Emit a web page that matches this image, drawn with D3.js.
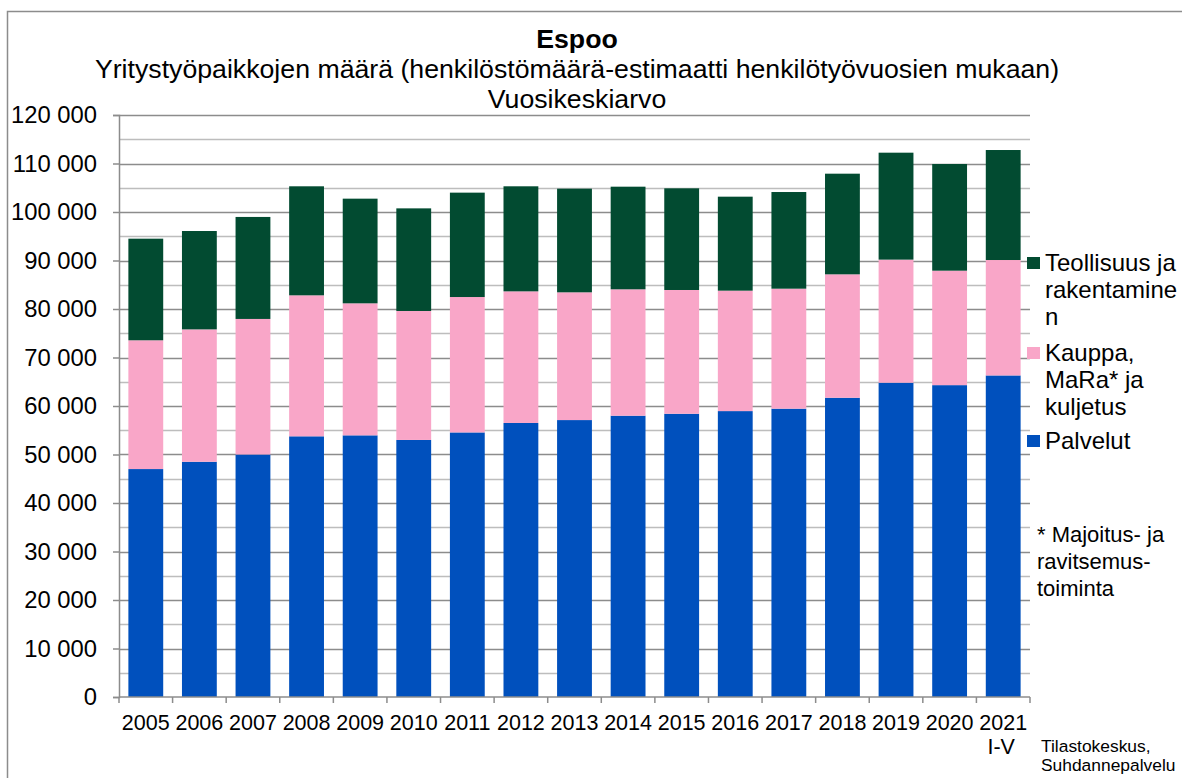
<!DOCTYPE html>
<meta charset="utf-8">
<style>
  body { margin: 0; background: #fff; }
  svg { display: block; font-family: "Liberation Sans", Arial, sans-serif; }
  .ylab { font-size: 23.8px; fill: #000; }
  .xlab { font-size: 21.5px; fill: #000; }
  .leg { font-size: 24px; fill: #000; }
  .foot { font-size: 22px; fill: #000; }
  .note { font-size: 17.4px; fill: #000; }
</style>
<body>
<div id="chart"></div>
<script src="https://d3js.org/d3.v7.min.js"></script>
<script>
  // data
  const years = ["2005", "2006", "2007", "2008", "2009", "2010", "2011", "2012", "2013",
    "2014", "2015", "2016", "2017", "2018", "2019", "2020", "2021"]
  const palvelut = [47000, 48500, 50000, 53750, 53950, 53000, 54550, 56500, 57100,
    58000, 58400, 58950, 59450, 61700, 64800, 64300, 66300]
  const kauppa = [26550, 27300, 27950, 29070, 27220, 26590, 27920, 27140, 26340,
    26060, 25520, 24830, 24740, 25450, 25380, 23600, 23800]
  const teollisuus = [20950, 20280, 21030, 22480, 21580, 21160, 21520, 21660, 21370,
    21160, 20960, 19380, 19930, 20750, 22050, 22000, 22680]
  const yTicks = [0, 10000, 20000, 30000, 40000, 50000, 60000, 70000, 80000, 90000,
    100000, 110000, 120000]
  const titles = ["Espoo",
    "Yritystyöpaikkojen määrä (henkilöstömäärä-estimaatti henkilötyövuosien mukaan)",
    "Vuosikeskiarvo"]
  const seriesNames = ["Palvelut", "Kauppa", "Teollisuus"]
  const legendItems = [
    { key: "Teollisuus", lines: ["Teollisuus ja", "rakentamine", "n"] },
    { key: "Kauppa", lines: ["Kauppa,", "MaRa* ja", "kuljetus"] },
    { key: "Palvelut", lines: ["Palvelut"] }
  ]
  const footnote = ["* Majoitus- ja", "ravitsemus-", "toiminta"]
  const source = ["Tilastokeskus,", "Suhdannepalvelu"]

  const W = 1182, H = 778
  const plot = { left: 119, right: 1030, top: 115, bottom: 697 }

  const color = d3.scaleOrdinal()
    .domain(seriesNames)
    .range(["#0050bd", "#f9a6c8", "#024b31"])

  const rows = years.map((y, i) => ({
    year: y, Palvelut: palvelut[i], Kauppa: kauppa[i], Teollisuus: teollisuus[i]
  }))
  const stacked = d3.stack().keys(seriesNames)(rows)

  const x = d3.scaleBand()
    .domain(years)
    .range([plot.left, plot.right])
    .paddingInner(0.35)
    .paddingOuter(0.175)

  const y = d3.scaleLinear()
    .domain([0, 120000])
    .range([plot.bottom, plot.top])

  const svg = d3.select("#chart").append("svg")
    .attr("width", W)
    .attr("height", H)

  // chart frame
  svg.append("rect")
    .attr("x", 7.5).attr("y", 11.5)
    .attr("width", W).attr("height", H)
    .attr("fill", "none")
    .attr("stroke", "#8c8c8c")
    .attr("stroke-width", 1.5)

  // titles
  svg.selectAll(".title")
    .data(titles)
    .join("text")
    .attr("class", "title")
    .attr("x", 577)
    .attr("y", (d, i) => 48 + i * 30)
    .attr("text-anchor", "middle")
    .style("font-size", "26.7px")
    .style("font-weight", (d, i) => i == 0 ? "bold" : "normal")
    .text(d => d)

  // minor gridlines
  const minor = d3.range(5000, 120000, 10000)
  svg.append("g")
    .selectAll("line")
    .data(minor)
    .join("line")
    .attr("x1", plot.left).attr("x2", plot.right)
    .attr("y1", d => Math.round(y(d)) + 0.5).attr("y2", d => Math.round(y(d)) + 0.5)
    .attr("stroke", "#bdbdbd")
    .attr("stroke-width", 1.5)

  // major gridlines
  svg.append("g")
    .selectAll("line")
    .data(yTicks.slice(1))
    .join("line")
    .attr("x1", plot.left).attr("x2", plot.right)
    .attr("y1", d => Math.round(y(d)) + 0.5).attr("y2", d => Math.round(y(d)) + 0.5)
    .attr("stroke", "#8c8c8c")
    .attr("stroke-width", 1.5)

  // bars
  svg.append("g")
    .selectAll("g")
    .data(stacked)
    .join("g")
    .attr("fill", d => color(d.key))
    .selectAll("rect")
    .data(d => d)
    .join("rect")
    .attr("x", d => x(d.data.year))
    .attr("y", d => y(d[1]))
    .attr("width", x.bandwidth())
    .attr("height", d => y(d[0]) - y(d[1]))

  // y axis
  const yAxis = svg.append("g")
    .attr("transform", `translate(${plot.left},0)`)
    .call(d3.axisLeft(y)
      .tickValues(yTicks)
      .tickSize(6)
      .tickPadding(16)
      .tickFormat(d => d3.format(",")(d).replace(/,/g, " ")))
  yAxis.select(".domain").attr("stroke", "#8c8c8c").attr("stroke-width", 1.5)
  yAxis.selectAll(".tick line").attr("stroke", "#8c8c8c").attr("stroke-width", 1.5)
  yAxis.selectAll(".tick text").attr("class", "ylab").attr("font-size", null).attr("font-family", null)

  // x axis (ticks between categories)
  svg.append("line")
    .attr("x1", plot.left).attr("x2", plot.right)
    .attr("y1", y(0)).attr("y2", y(0))
    .attr("stroke", "#8c8c8c").attr("stroke-width", 1.5)
  const step = x.step()
  svg.append("g")
    .selectAll("line")
    .data(years.concat(["end"]))
    .join("line")
    .attr("x1", (d, i) => plot.left + i * step)
    .attr("x2", (d, i) => plot.left + i * step)
    .attr("y1", y(0)).attr("y2", y(0) + 6)
    .attr("stroke", "#8c8c8c").attr("stroke-width", 1.5)

  svg.append("g")
    .selectAll("text")
    .data(years)
    .join("text")
    .attr("class", "xlab")
    .attr("x", d => x(d) + x.bandwidth() / 2)
    .attr("y", 730)
    .attr("text-anchor", "middle")
    .text(d => d)
  svg.append("text")
    .attr("class", "xlab")
    .attr("x", x("2021") + x.bandwidth() / 2 - 2)
    .attr("y", 754)
    .attr("text-anchor", "middle")
    .text("I-V")

  // legend
  const legTop = [257, 347, 435]
  legendItems.forEach((item, i) => {
    svg.append("rect")
      .attr("x", 1027).attr("y", legTop[i])
      .attr("width", 13).attr("height", 12)
      .attr("fill", color(item.key))
    svg.append("g")
      .selectAll("text")
      .data(item.lines)
      .join("text")
      .attr("class", "leg")
      .attr("x", 1045)
      .attr("y", (d, j) => legTop[i] + 14 + j * 27)
      .text(d => d)
  })

  svg.append("g")
    .selectAll("text")
    .data(footnote)
    .join("text")
    .attr("class", "foot")
    .attr("x", 1037)
    .attr("y", (d, j) => 542 + j * 27)
    .text(d => d)

  svg.append("g")
    .selectAll("text")
    .data(source)
    .join("text")
    .attr("class", "note")
    .attr("x", 1041)
    .attr("y", (d, j) => 752 + j * 19)
    .text(d => d)
</script>
</body>
